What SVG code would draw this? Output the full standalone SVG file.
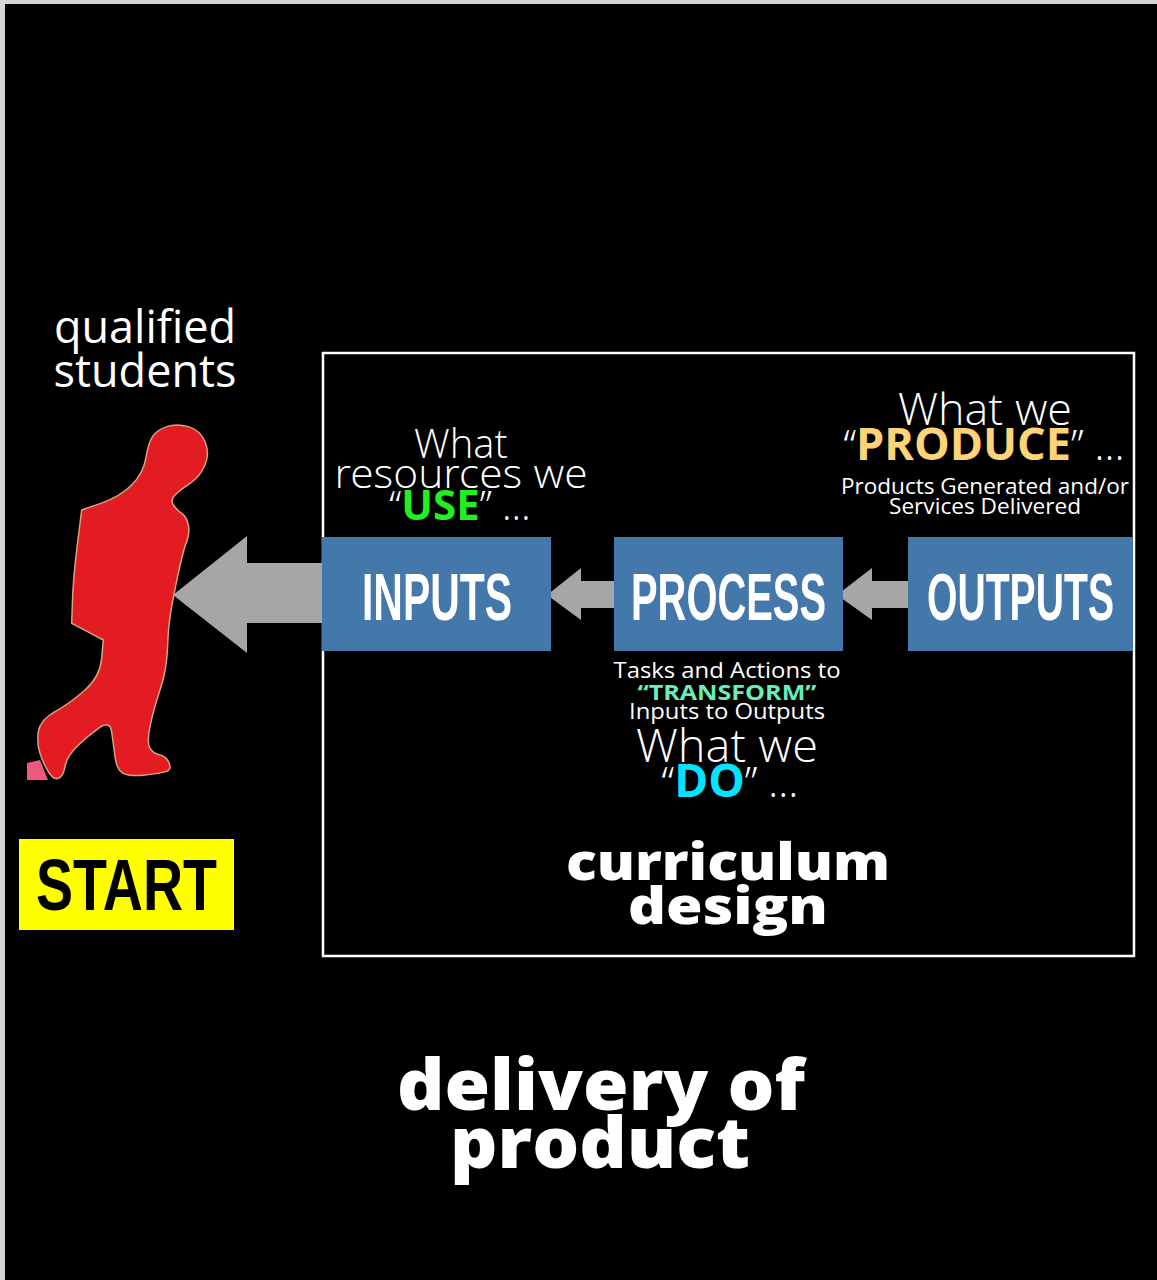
<svg xmlns="http://www.w3.org/2000/svg" width="1157" height="1280" viewBox="0 0 1157 1280">
<style>
.lt{font-family:"Open Sans Light","Open Sans","Liberation Sans",sans-serif;font-weight:300;fill:#fff;text-anchor:middle}
.rg{font-family:"Open Sans","Liberation Sans",sans-serif;font-weight:400;fill:#fff;text-anchor:middle}
.bd{font-family:"Open Sans","Liberation Sans",sans-serif;font-weight:700}
.hv{font-family:"Open Sans","DejaVu Sans",sans-serif;font-weight:800;fill:#fff;text-anchor:middle}
.cond{font-family:"Liberation Sans Narrow","Liberation Sans",sans-serif;font-weight:700;text-anchor:middle}
.box{fill:#4477AA}
.arr{fill:#A6A6A6}
</style>
<rect x="0" y="0" width="1157" height="1280" fill="#d6d6d6"/>
<rect x="5" y="4" width="1152" height="1276" fill="#000"/>

<g id="figure">
<path d="M152.5,436.65 Q148.3,443.3 145.8,458.3 Q143.3,473.3 131.65,485 Q120,496.7 100.85,503.35 L81.7,510 L77.5,543.35 Q73.3,576.7 72.5,600 L71.7,623.3 L87.5,631.65 L103.3,640 L101.65,658.35 Q100,676.7 85,690 Q70,703.3 55,711.65 Q40,720 38.35,731.65 Q36.7,743.3 40,753.3 Q43.3,763.3 48.3,771.65 Q53.3,780 58.3,778.35 Q63.3,776.7 65,766.7 Q66.7,756.7 76.7,746.7 Q86.7,736.7 98.35,728.35 Q110,720 111.65,731.65 Q113.3,743.3 115,756.65 Q116.7,770 123.35,773.35 Q130,776.7 145,775 Q160,773.3 165.85,771.65 Q171.7,770 169.2,763.35 Q166.7,756.7 160,755 Q153.3,753.3 150,748.3 Q146.7,743.3 150,726.65 Q153.3,710 160,690 Q166.7,670 167.5,648.35 Q168.3,626.7 170.8,611.7 Q173.3,596.7 178.3,573.35 Q183.3,550 186.65,541.65 Q190,533.3 188.35,525 Q186.7,516.7 181.7,513.35 Q176.7,510 173.35,505 Q170,500 175,495 Q180,490 190,483.35 Q200,476.7 205,465 Q210,453.3 205,441.65 Q200,430 188.35,426.65 Q176.7,423.3 166.7,426.65 Q156.7,430 152.5,436.65 Z" fill="#E31B23" stroke="#D8A27C" stroke-width="1.5" stroke-linejoin="round"/>
<path d="M27,763 L40,760 L48,780 L27,780 Z" fill="#EE5A7E"/>
<text class="rg" x="145" y="343" font-size="45">qualified</text>
<text class="rg" x="145" y="387" font-size="45">students</text>
</g>

<g id="start">
<rect x="19" y="839" width="215" height="91" fill="#FFFF00"/>
<text class="cond" x="126.5" y="910" font-size="72" fill="#000" textLength="181" lengthAdjust="spacingAndGlyphs">START</text>
</g>

<g id="frame">
<rect x="323" y="353" width="811" height="603" fill="none" stroke="#fff" stroke-width="2.5"/>
</g>

<g id="connectors">
<path class="arr" d="M173,595 L247,536 L247,563 L323,563 L323,623 L247,623 L247,653 Z"/>
<path class="arr" d="M547,595 L581,568 L581,581 L614,581 L614,608 L581,608 L581,620 Z"/>
<path class="arr" d="M837,595 L872,568 L872,581 L908,581 L908,608 L872,608 L872,620 Z"/>
</g>

<g id="node-inputs">
<rect class="box" x="322" y="537" width="229" height="114"/>
<text class="cond" x="437" y="620" font-size="66" fill="#fff" textLength="150" lengthAdjust="spacingAndGlyphs">INPUTS</text>
</g>
<g id="node-process">
<rect class="box" x="614" y="537" width="229" height="114"/>
<text class="cond" x="728.5" y="620" font-size="66" fill="#fff" textLength="195" lengthAdjust="spacingAndGlyphs">PROCESS</text>
</g>
<g id="node-outputs">
<rect class="box" x="908" y="537" width="225" height="114"/>
<text class="cond" x="1020.5" y="620" font-size="66" fill="#fff" textLength="187" lengthAdjust="spacingAndGlyphs">OUTPUTS</text>
</g>

<g id="label-inputs">
<text class="lt" x="461" y="458" font-size="40">What</text>
<text class="lt" x="461" y="488" font-size="40" textLength="253" lengthAdjust="spacingAndGlyphs">resources we</text>
<text class="lt" x="460" y="520" font-size="40">“<tspan class="bd" fill="#22EE22" font-size="42">USE</tspan>” …</text>
</g>

<g id="label-outputs">
<text class="lt" x="985" y="425" font-size="44" textLength="174" lengthAdjust="spacingAndGlyphs">What we</text>
<text class="lt" x="984" y="460" font-size="42">“<tspan class="bd" fill="#FFD479" font-size="45">PRODUCE</tspan>” …</text>
<text class="rg" x="985" y="494" font-size="22" textLength="288" lengthAdjust="spacingAndGlyphs">Products Generated and/or</text>
<text class="rg" x="985" y="514" font-size="22" textLength="192" lengthAdjust="spacingAndGlyphs">Services Delivered</text>
</g>

<g id="label-process">
<text class="rg" x="727" y="678" font-size="22" textLength="227" lengthAdjust="spacingAndGlyphs">Tasks and Actions to</text>
<text class="bd" x="727" y="700" font-size="21" fill="#66EEBB" text-anchor="middle" textLength="179" lengthAdjust="spacingAndGlyphs">“TRANSFORM”</text>
<text class="rg" x="727" y="719" font-size="22" textLength="196" lengthAdjust="spacingAndGlyphs">Inputs to Outputs</text>
<text class="lt" x="727" y="762" font-size="46" textLength="182" lengthAdjust="spacingAndGlyphs">What we</text>
<text class="lt" x="730" y="797" font-size="42">“<tspan class="bd" fill="#00E5FF" font-size="46">DO</tspan>” …</text>
</g>

<g id="label-curriculum">
<text class="hv" x="728" y="880" font-size="52" textLength="324" lengthAdjust="spacingAndGlyphs">curriculum</text>
<text class="hv" x="728" y="924" font-size="52" textLength="200" lengthAdjust="spacingAndGlyphs">design</text>
</g>

<g id="label-delivery">
<text class="hv" x="601" y="1110" font-size="70" textLength="408" lengthAdjust="spacingAndGlyphs">delivery of</text>
<text class="hv" x="600" y="1168" font-size="70" textLength="300" lengthAdjust="spacingAndGlyphs">product</text>
</g>
</svg>
